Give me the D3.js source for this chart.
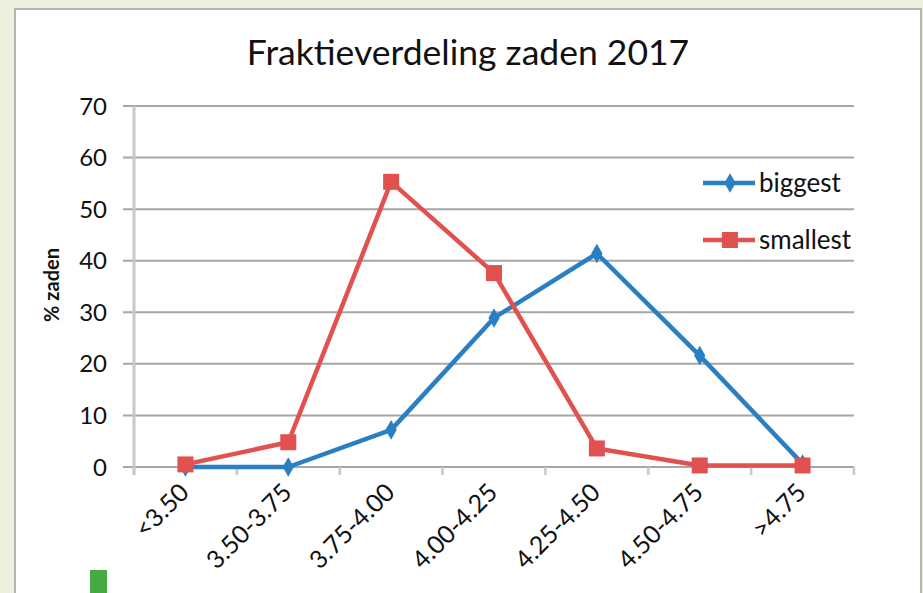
<!DOCTYPE html>
<html><head><meta charset="utf-8">
<script src="https://cdn.jsdelivr.net/npm/d3@7"></script>
<style>
html,body{margin:0;padding:0;background:#eef0df;}
svg{display:block;}
text{font-family:Lato,"Open Sans",sans-serif;fill:#111;}
</style></head>
<body>
<svg id="chart" width="923" height="593"></svg>
<script>
const categories = ["<3.50","3.50-3.75","3.75-4.00","4.00-4.25","4.25-4.50","4.50-4.75",">4.75"];
const biggest = [0, 0, 7.2, 28.9, 41.4, 21.6, 0.6];
const smallest = [0.5, 4.8, 55.3, 37.6, 3.6, 0.3, 0.3];
const yTicks = [0,10,20,30,40,50,60,70];
const seriesNames = ["biggest","smallest"];
const titleText = "Fraktieverdeling zaden 2017";
const yLabel = "% zaden";

(function(){
const blue = "#2a7fc2", red = "#e05150";
const svg = d3.select("#chart");

// panel
svg.append("rect").attr("x",15).attr("y",9).attr("width",906).attr("height",600)
  .attr("fill","#fff").attr("stroke","#b4b4b4").attr("stroke-width",2);

const pL=134, pR=854, pT=106, pB=467;
const x = d3.scaleBand().domain(categories).range([pL,pR]);
const y = d3.scaleLinear().domain([0,70]).range([pB,pT]);

// gridlines
svg.append("g").selectAll("line").data(yTicks).join("line")
  .attr("x1",pL-11).attr("x2",pR).attr("y1",d=>y(d)).attr("y2",d=>y(d))
  .attr("stroke","#a6a6a6").attr("stroke-width",2);

// y axis line
svg.append("line").attr("x1",pL).attr("x2",pL).attr("y1",pT).attr("y2",pB+8)
  .attr("stroke","#c8c8c8").attr("stroke-width",3);

// x ticks
const bounds = categories.map(c=>x(c)).concat([pR]);
svg.append("g").selectAll("line").data(bounds).join("line")
  .attr("x1",d=>d).attr("x2",d=>d).attr("y1",pB).attr("y2",pB+8)
  .attr("stroke","#c8c8c8").attr("stroke-width",2.5);

// y tick labels
svg.append("g").selectAll("text").data(yTicks).join("text")
  .attr("x",107).attr("y",d=>y(d)).attr("dy","0.36em")
  .attr("text-anchor","end").attr("font-size",24).text(d=>d);

// x labels
svg.append("g").selectAll("text").data(categories).join("text")
  .attr("transform",d=>`translate(${x(d)+x.bandwidth()/2+5},${pB+27}) rotate(-45)`)
  .attr("text-anchor","end").attr("font-size",25).text(d=>d);

// title
svg.append("text").attr("x",468).attr("y",65).attr("text-anchor","middle")
  .attr("font-size",35.5).text(titleText);

// y label
svg.append("text").attr("transform","translate(59,285) rotate(-90)")
  .attr("text-anchor","middle").attr("font-size",20).attr("font-weight","bold").text(yLabel);

const cx = d=>x(d)+x.bandwidth()/2;
const line = d3.line().x((d,i)=>cx(categories[i])).y(d=>y(d));

// biggest
svg.append("path").datum(biggest).attr("d",line).attr("fill","none")
  .attr("stroke",blue).attr("stroke-width",4.5).attr("stroke-linejoin","round");
const diamond = d3.symbol().type(d3.symbolDiamond).size(110);
svg.append("g").selectAll("path").data(biggest).join("path")
  .attr("d",diamond).attr("transform",(d,i)=>`translate(${cx(categories[i])},${y(d)})`)
  .attr("fill",blue);

// smallest
svg.append("path").datum(smallest).attr("d",line).attr("fill","none")
  .attr("stroke",red).attr("stroke-width",4.5).attr("stroke-linejoin","round");
svg.append("g").selectAll("rect").data(smallest).join("rect")
  .attr("x",(d,i)=>cx(categories[i])-8).attr("y",d=>y(d)-8)
  .attr("width",16).attr("height",16).attr("fill",red);

// legend
const leg = svg.append("g");
const legY = [183,240];
const colors=[blue,red];
seriesNames.forEach((n,i)=>{
  const g=leg.append("g").attr("transform",`translate(0,${legY[i]})`);
  g.append("line").attr("x1",703).attr("x2",755).attr("y1",0).attr("y2",0)
    .attr("stroke",colors[i]).attr("stroke-width",4.5);
  if(i===0) g.append("path").attr("d",diamond).attr("transform","translate(730,0)").attr("fill",blue);
  else g.append("rect").attr("x",722).attr("y",-8).attr("width",16).attr("height",16).attr("fill",red);
  g.append("text").attr("x",759).attr("y",0).attr("dy","0.33em").attr("font-size",26).text(n);
});

// green marker bottom-left
svg.append("rect").attr("x",90).attr("y",570).attr("width",17).attr("height",23).attr("fill","#45aa44");
})();
</script>
</body></html>
